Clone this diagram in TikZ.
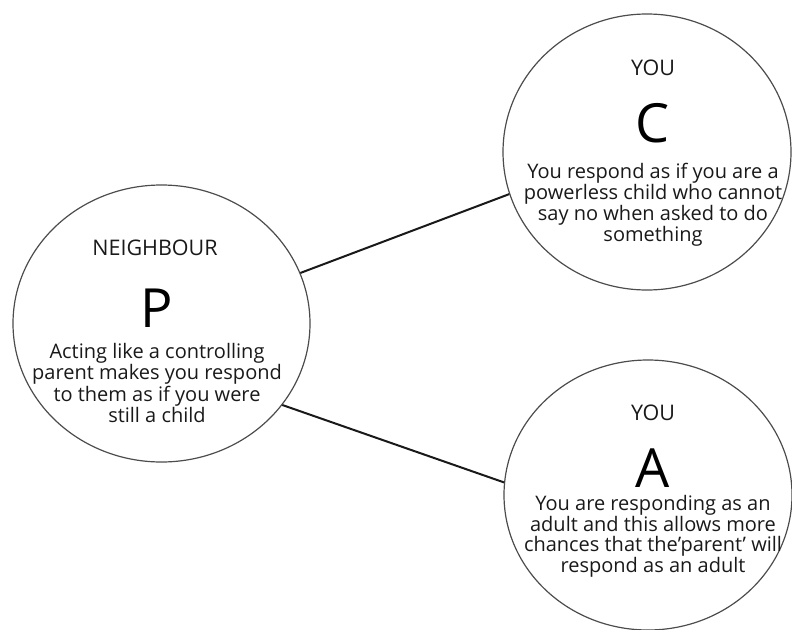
\documentclass[tikz,border=0pt]{standalone}
\usepackage{fontspec}
\setmainfont{Open Sans}
\usetikzlibrary{shapes.geometric}
\begin{document}
\begin{tikzpicture}[x=1pt,y=-1pt,
  bubble/.style={draw=black!70,line width=1.2pt,ellipse,inner sep=0pt},
  head/.style={font=\fontsize{21.5}{24}\selectfont,text=black!90},
  big/.style={font=\fontsize{54}{60}\selectfont,text=black},
  body/.style={font=\fontsize{20}{19.7}\selectfont,text=black!90,align=center},
  link/.style={draw=black!90,line width=2pt}]
\useasboundingbox (0,0) rectangle (792,629);
\node[bubble,minimum width=297pt,minimum height=277pt] (P) at (161.5,323.5) {};
\node[bubble,minimum width=288pt,minimum height=276pt] (C) at (647,152) {};
\node[bubble,minimum width=288pt,minimum height=270pt] (A) at (648,495) {};
\node[head] (Ph) at (155,248) {NEIGHBOUR};
\node[big] (Pl) at (157,308) {P};
\node[body] (Pt) at (157,383) {Acting like a controlling\\parent makes you respond\\to them as if you were\\still a child};
\node[head] (Ch) at (653,68) {YOU};
\node[big] (Cl) at (653,123) {C};
\node[body] (Ct) at (653,205) {You respond as if you are a\\powerless child who cannot\\say no when asked to do\\something};
\node[head] (Ah) at (653,413) {YOU};
\node[big] (Al) at (653,468) {A};
\node[body] (At) at (653,536) {You are responding as an\\adult and this allows more\\chances that the’parent’ will\\respond as an adult};
\draw[link] (P.20.7) -- (C.197);
\draw[link] (P.-34) -- (A.175);
\end{tikzpicture}
\end{document}
